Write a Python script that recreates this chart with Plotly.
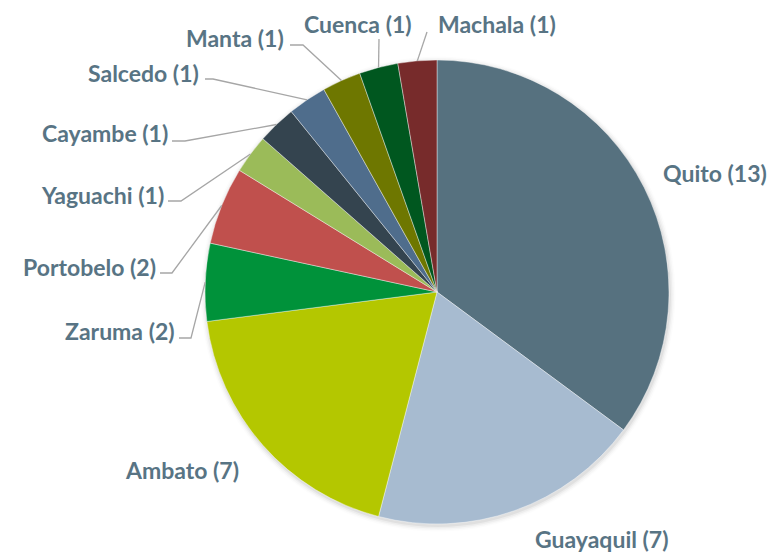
import math
import plotly.graph_objects as go

cities = ["Quito", "Guayaquil", "Ambato", "Zaruma", "Portobelo", "Yaguachi",
          "Cayambe", "Salcedo", "Manta", "Cuenca", "Machala"]
counts = [13, 7, 7, 2, 2, 1, 1, 1, 1, 1, 1]
colors = ["#56717f", "#a7bbd0", "#b4c700", "#00923a", "#c0504d", "#9bbb59",
          "#34444f", "#4f6d8c", "#6e7700", "#00571f", "#772b2b"]

OFF = 8                      # page body margin
W, H = 779 - OFF, 554 - OFF  # figure size
CX, CY, R = 437, 292, 232    # pie centre / radius in window pixels

# label layout in window pixels: (text x, text y, xanchor, leader (start x, y, elbow x))
label_layout = {
    "Quito": (768, 173, "right", None),
    "Guayaquil": (602, 539, "center", None),
    "Ambato": (182, 470, "center", None),
    "Zaruma": (176, 331, "right", (179, 338, 191)),
    "Portobelo": (157, 267, "right", (160, 273, 172)),
    "Yaguachi": (165, 195, "right", (168, 201, 181)),
    "Cayambe": (169, 133, "right", (172, 141, 185)),
    "Salcedo": (200, 73, "right", (205, 79, 213)),
    "Manta": (285, 38, "right", (290, 45, 303)),
    "Cuenca": (358, 24, "center", (379, 39, 379)),
    "Machala": (497, 24, "center", (427, 32, 427)),
}

def px(x, y):
    return (x - OFF) / W, 1 - (y - OFF) / H

shapes = []
# soft shadow rings behind the pie
for i, a in enumerate([0.05, 0.035, 0.022, 0.012]):
    rr = R + 1 + i * 1.5
    x0, y1 = px(CX + 1 - rr, CY + 2 - rr)
    x1, y0 = px(CX + 1 + rr, CY + 2 + rr)
    shapes.append(dict(type="circle", xref="paper", yref="paper", layer="below",
                       x0=x0, x1=x1, y0=y0, y1=y1,
                       fillcolor=f"rgba(0,0,0,{a})", line=dict(width=0)))

dx0, dy1 = px(CX - R, CY - R)
dx1, dy0 = px(CX + R, CY + R)

fig = go.Figure()
fig.add_trace(go.Pie(
    labels=cities, values=counts, sort=False, direction="clockwise", rotation=0,
    marker=dict(colors=colors, line=dict(color="rgba(255,255,255,0.5)", width=0.8)),
    textinfo="none", hoverinfo="label+value", showlegend=False,
    domain=dict(x=[dx0, dx1], y=[dy0, dy1]),
))

total = sum(counts)
cum = 0
annotations = []
for city, n in zip(cities, counts):
    mid = (cum + n / 2) / total * 2 * math.pi
    cum += n
    ex = CX + R * math.sin(mid)
    ey = CY - R * math.cos(mid)
    tx, ty, anchor, lead = label_layout[city]
    ax, ay = px(tx, ty)
    annotations.append(dict(
        x=ax, y=ay, xref="paper", yref="paper", xanchor=anchor, yanchor="middle",
        text=f"<b>{city} ({n})</b>", showarrow=False, borderpad=0,
        font=dict(family="Lato", size=23, color="#587484"),
    ))
    if lead is not None:
        sx, sy, bx = lead
        p0 = px(sx, sy)
        p1 = px(bx, sy)
        p2 = px(ex, ey)
        shapes.append(dict(
            type="path", xref="paper", yref="paper",
            path=f"M {p0[0]},{p0[1]} L {p1[0]},{p1[1]} L {p2[0]},{p2[1]}",
            line=dict(color="#a6a6a6", width=1.3),
        ))

fig.update_layout(
    width=W, height=H, margin=dict(l=0, r=0, t=0, b=0),
    paper_bgcolor="white", plot_bgcolor="white",
    annotations=annotations, shapes=shapes,
)
fig.write_html("out.html")
